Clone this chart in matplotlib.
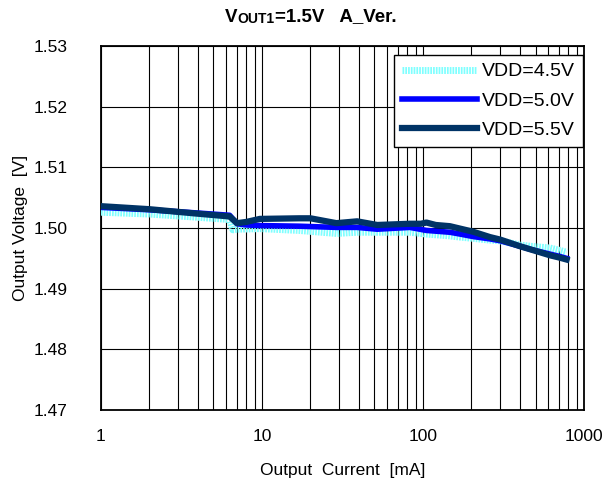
import numpy as np
import matplotlib.pyplot as plt
from matplotlib.ticker import LogLocator, NullFormatter

plt.rcParams['font.family'] = ['Liberation Sans', 'DejaVu Sans']

# ----------------------------------------------------------
# DATA
# ----------------------------------------------------------
i_45 = [1, 2, 3.84, 6.3, 6.6, 7.0, 9.7, 17, 29, 39, 52, 83, 105, 147, 170, 204, 261, 301, 400, 462, 615, 710, 780]
v_45 = [1.5026, 1.5023, 1.5018, 1.5014, 1.4997, 1.4998, 1.4999, 1.4996, 1.4991, 1.4993, 1.4993, 1.4993, 1.4990,
        1.4987, 1.4985, 1.4983, 1.4980, 1.4979, 1.4972, 1.4970, 1.4967, 1.4963, 1.4960]

i_50 = [1, 2, 3.84, 6.3, 7.0, 8.0, 9.7, 17, 29, 39, 52, 83, 105, 147, 170, 204, 261, 301, 400, 462, 615, 710, 780]
v_50 = [1.5034, 1.5030, 1.5025, 1.5021, 1.5007, 1.5005, 1.5004, 1.5003, 1.5001, 1.5001, 1.4998, 1.5001, 1.4996,
        1.4993, 1.4990, 1.4986, 1.4982, 1.4979, 1.4970, 1.4965, 1.4957, 1.4953, 1.4950]

i_55 = [1, 2, 3.84, 6.3, 7.0, 8.0, 9.7, 17, 20, 29, 39, 52, 83, 97, 105, 120, 147, 170, 204, 261, 301, 400, 462, 615, 710, 780]
v_55 = [1.5036, 1.5031, 1.5024, 1.5019, 1.5008, 1.5010, 1.5015, 1.5016, 1.5016, 1.5008, 1.5011, 1.5005, 1.5007,
        1.5007, 1.5009, 1.5005, 1.5003, 1.4999, 1.4994, 1.4985, 1.4981, 1.4970, 1.4965, 1.4955, 1.4951, 1.4948]

labels = ["VDD=4.5V", "VDD=5.0V", "VDD=5.5V"]

# ----------------------------------------------------------
# PLOT
# ----------------------------------------------------------
fig = plt.figure(figsize=(6.08, 4.79), dpi=100)
ax = fig.add_axes([0.166, 0.144, 0.7945, 0.760])

ax.plot(i_45, v_45, color="#80FFFF", lw=5, ls=(0, (0.25, 0.15)), label=labels[0], zorder=3)
ax.plot(i_50, v_50, color="#0000FF", lw=4, label=labels[1], zorder=4)
ax.plot(i_55, v_55, color="#003366", lw=4.5, label=labels[2], zorder=5)

ax.set_xscale("log")
ax.set_xlim(1, 1000)
ax.set_ylim(1.47, 1.53)
ax.set_xticks([1, 10, 100, 1000])
ax.set_xticklabels(["1", "10", "100", "1000"])
ax.xaxis.set_minor_locator(LogLocator(base=10, subs=np.arange(2, 10)))
ax.xaxis.set_minor_formatter(NullFormatter())
yt = np.arange(1.47, 1.5301, 0.01)
ax.set_yticks(yt)
ax.set_yticklabels([f"{v:.2f}" for v in yt])

ax.grid(True, which="both", axis="x", color="black", lw=0.8)
ax.grid(True, which="major", axis="y", color="black", lw=0.8)
ax.tick_params(which="both", length=0, labelsize=12.5)
ax.tick_params(axis="x", pad=14)
ax.tick_params(axis="y", pad=24)
for s in ax.spines.values():
    s.set_linewidth(1.3)

ax.set_xlabel("Output  Current  [mA]", fontsize=12.5, labelpad=13)
ax.set_ylabel("Output Voltage  [V]", fontsize=12.5, labelpad=4)

leg = ax.legend(loc="upper right", bbox_to_anchor=(0.998, 0.975), fontsize=14,
                handlelength=3.9, handletextpad=0.25, borderpad=0.4, labelspacing=0.6,
                fancybox=False, framealpha=1, edgecolor="black", borderaxespad=0)
leg.get_frame().set_linewidth(1.0)

# title with small caps part
t1 = fig.text(0.37, 0.955, "V", fontsize=13.5, fontweight="bold", ha="left", va="baseline")
t2 = ax.annotate("OUT1", xy=(1, 0), xycoords=t1, fontsize=10, fontweight="bold", va="bottom")
t3 = ax.annotate("=1.5V   A_Ver.", xy=(1, 0), xycoords=t2, fontsize=13.5, fontweight="bold", va="bottom")

fig.savefig("out.png", dpi=100)
